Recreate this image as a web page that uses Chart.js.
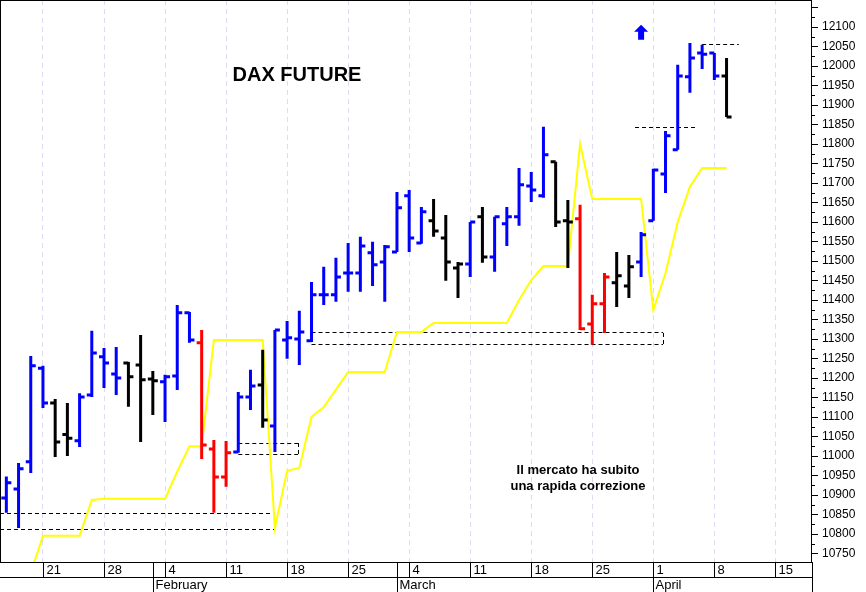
<!DOCTYPE html>
<html><head><meta charset="utf-8">
<script src="https://cdn.jsdelivr.net/npm/chart.js@4.4.1/dist/chart.umd.min.js"></script>
<style>html,body{margin:0;padding:0;background:#fff}</style>
</head><body>
<canvas id="c" width="866" height="592"></canvas>
<script>
// trading-day index (0 = Mon 14 Jan 2019)
const barIndex = [2,3,4,5,6,7,8,9,10,11,12,13,14,15,16,17,18,19,20,21,22,23,24,25,26,27,28,29,30,31,32,33,34,35,36,37,38,39,40,41,42,43,44,45,46,47,48,49,50,51,52,53,54,55,56,57,58,59,60,61];
const opens  = [10892,10915,10985,11225,11136,11055,11039,11156,11254,11210,11238,11233,11197,11190,11205,11367,11290,11018,10946,11010,11151,11182,11077,11297,11300,11295,11413,11413,11469,11469,11521,11497,11523,11667,11546,11603,11559,11482,11492,11613,11510,11595,11613,11692,11667,11754,11603,11608,11338,11390,11444,11436,11497,11603,11723,11785,11972,12033,12033,11974];
const highs  = [10947,10982,11256,11231,11146,11136,11161,11321,11277,11279,11241,11310,11218,11208,11387,11369,11323,11041,11038,11164,11221,11272,11323,11346,11372,11446,11485,11508,11546,11562,11549,11541,11677,11682,11638,11659,11618,11497,11600,11638,11613,11638,11738,11728,11844,11754,11656,11644,11413,11469,11523,11515,11574,11736,11833,12003,12059,12054,12033,12020];
const lows   = [10854,10815,10956,11123,10997,11000,11023,11151,11174,11156,11126,11036,11105,11087,11169,11290,10992,10854,10921,11008,11118,11072,11010,11249,11233,11292,11387,11395,11421,11421,11436,11395,11523,11523,11544,11562,11449,11405,11459,11495,11472,11538,11590,11651,11662,11587,11482,11323,11285,11315,11382,11405,11459,11603,11674,11785,11931,11992,11964,11869];
const closes = [10931,10967,11231,11136,11036,11045,11151,11264,11238,11200,11203,11195,11193,11203,11367,11297,11028,10946,11008,11151,11179,11092,11323,11303,11318,11413,11413,11459,11469,11538,11490,11536,11636,11559,11626,11577,11497,11492,11600,11510,11613,11613,11695,11682,11772,11600,11600,11326,11390,11459,11462,11485,11567,11733,11821,11974,12020,12030,11974,11869];
const barColors = ['b','b','b','b','k','k','b','b','b','b','k','k','k','b','b','b','r','r','r','b','b','k','b','b','b','b','b','b','b','b','b','b','b','b','b','k','k','k','b','k','b','b','b','b','b','k','k','r','r','r','k','k','b','b','b','b','b','b','b','k'];
const yellowIndex = [4,5,6,7,8,9,10,11,12,13,14,15,16,17,18,19,20,21,22,23,24,25,26,27,28,29,30,31,32,33,34,35,36,37,38,39,40,41,42,43,44,45,46,47,48,49,50,51,52,53,54,55,56,57,58,59,60,61];
const yellowValues = [10700,10795,10795,10795,10795,10887,10890,10890,10890,10890,10890,10890,10960,11025,11025,11297,11297,11297,11297,11297,10815,10962,10969,11100,11125,11170,11215,11215,11215,11215,11318,11318,11318,11341,11341,11341,11341,11341,11341,11341,11400,11451,11487,11487,11487,11800,11659,11659,11659,11659,11659,11374,11469,11600,11690,11738,11738,11738];
// dashed levels: [fromIndex, toIndex, value]
const dashLevels = [[1.4,24,10854],[1.4,24,10813],[21,25.9,11033],[21,25.9,11005],[27,55.8,11318],[27,55.8,11287],[53.5,58.5,11844],[59,62,12056]];
const dashBoxEdges = [[25.9,11005,11033],[55.8,11287,11318]];
const mondayIndex = [5,10,15,20,25,30,35,40,45,50,55,60,65];
const mondayLabels = ['21','28','4','11','18','25','4','11','18','25','1','8','15'];
const monthIndex = [14,34,55];
const monthLabels = ['February','March','April'];
const yTicks = [10750,10800,10850,10900,10950,11000,11050,11100,11150,11200,11250,11300,11350,11400,11450,11500,11550,11600,11650,11700,11750,11800,11850,11900,11950,12000,12050,12100];

const colMap = {b:'#0000ff',k:'#000000',r:'#ff0000'};
const FONT = 'Arial, "Liberation Sans", sans-serif';

const overlay = {
  id:'overlay',
  beforeDatasetsDraw(chart){
    const {ctx, chartArea:a, scales:{x,y}} = chart;
    ctx.save();
    ctx.strokeStyle='#000'; ctx.lineWidth=1; ctx.setLineDash([4,3]);
    dashLevels.forEach(([f,t,v])=>{
      const yy=Math.round(y.getPixelForValue(v))+0.5;
      ctx.beginPath(); ctx.moveTo(Math.max(a.left,x.getPixelForValue(f)),yy); ctx.lineTo(x.getPixelForValue(t),yy); ctx.stroke();
    });
    dashBoxEdges.forEach(([i,v1,v2])=>{
      const xx=Math.round(x.getPixelForValue(i))+0.5;
      ctx.beginPath(); ctx.moveTo(xx,y.getPixelForValue(v1)); ctx.lineTo(xx,y.getPixelForValue(v2)); ctx.stroke();
    });
    ctx.restore();
  },
  afterDatasetsDraw(chart){
    const {ctx, chartArea:a, scales:{x,y}} = chart;
    ctx.save();
    ctx.beginPath(); ctx.rect(a.left,a.top,a.right-a.left,a.bottom-a.top); ctx.clip();
    ctx.lineWidth=3; ctx.lineCap='butt';
    barIndex.forEach((idx,i)=>{
      const cx=x.getPixelForValue(idx);
      ctx.strokeStyle=colMap[barColors[i]];
      ctx.beginPath();
      ctx.moveTo(cx,y.getPixelForValue(highs[i])); ctx.lineTo(cx,y.getPixelForValue(lows[i]));
      const yo=y.getPixelForValue(opens[i]), yc=y.getPixelForValue(closes[i]);
      ctx.moveTo(cx-5,yo); ctx.lineTo(cx,yo);
      ctx.moveTo(cx,yc); ctx.lineTo(cx+5,yc);
      ctx.stroke();
    });
    const ax=x.getPixelForValue(54), ay=y.getPixelForValue(12080);
    ctx.fillStyle='#0000ff';
    ctx.beginPath(); ctx.moveTo(ax,ay-10); ctx.lineTo(ax+7,ay-3); ctx.lineTo(ax+3,ay-3); ctx.lineTo(ax+3,ay+5); ctx.lineTo(ax-3,ay+5); ctx.lineTo(ax-3,ay-3); ctx.lineTo(ax-7,ay-3); ctx.closePath(); ctx.fill();
    ctx.restore();
    ctx.save();
    ctx.fillStyle='#000'; ctx.textAlign='center'; ctx.textBaseline='middle';
    ctx.font='bold 20px '+FONT; ctx.fillText('DAX FUTURE',297,75);
    ctx.font='bold 13px '+FONT;
    ctx.fillText('Il mercato ha subito',578,470);
    ctx.fillText('una rapida correzione',578,486);
    ctx.strokeStyle='#000'; ctx.lineWidth=1;
    ctx.strokeRect(a.left+0.5,a.top+0.5,a.right-a.left-1,a.bottom-a.top);
    ctx.font='12px '+FONT; ctx.textAlign='left';
    for(let v=10725; v<=12175; v+=25){
      const yy=Math.round(y.getPixelForValue(v))+0.5;
      if(yy<a.top||yy>a.bottom) continue;
      const major=(v%50===0);
      ctx.beginPath(); ctx.moveTo(a.right,yy); ctx.lineTo(a.right+(major?6:3),yy); ctx.stroke();
    }
    yTicks.forEach(v=>{ ctx.fillText(String(v), a.right+10, y.getPixelForValue(v)); });
    const b=a.bottom;
    ctx.beginPath(); ctx.moveTo(0,b+15.5); ctx.lineTo(a.right,b+15.5); ctx.stroke();
    ctx.beginPath(); ctx.moveTo(a.right+0.5,b); ctx.lineTo(a.right+0.5,592); ctx.stroke();
    ctx.textBaseline='middle';
    ctx.font='13px '+FONT;
    mondayIndex.forEach((m,i)=>{
      const xx=Math.round(x.getPixelForValue(m))+0.5;
      if(xx>a.right) return;
      ctx.beginPath(); ctx.moveTo(xx,b); ctx.lineTo(xx,b+15); ctx.stroke();
      ctx.fillText(mondayLabels[i], xx+3, b+8);
    });
    monthIndex.forEach((m,i)=>{
      const xx=Math.round(x.getPixelForValue(m))+0.5;
      ctx.beginPath(); ctx.moveTo(xx,b); ctx.lineTo(xx,592); ctx.stroke();
      ctx.fillText(monthLabels[i], xx+2, b+23);
    });
    ctx.restore();
  }
};

new Chart(document.getElementById('c'),{
  type:'line',
  data:{datasets:[{
    data: yellowIndex.map((ix,i)=>({x:ix,y:yellowValues[i]})),
    borderColor:'#ffff00', borderWidth:2, pointRadius:0, tension:0, fill:false
  }]},
  options:{
    responsive:false, animation:false, devicePixelRatio:1,
    plugins:{legend:{display:false},tooltip:{enabled:false}},
    scales:{
      x:{type:'linear',min:1.48,max:68.0,
        afterBuildTicks(s){ s.ticks = mondayIndex.map(v=>({value:v})); },
        afterFit(s){ s.height=30; },
        grid:{color:'#dcdcf4',drawTicks:false,lineWidth:1},
        border:{display:false,dash:[5,4]},
        ticks:{display:false}
      },
      y:{type:'linear',position:'right',min:10728,max:12169,
        afterFit(s){ s.width=54; },
        grid:{display:false},
        border:{display:false},
        ticks:{display:false}
      }
    }
  },
  plugins:[overlay]
});
</script>
</body></html>
